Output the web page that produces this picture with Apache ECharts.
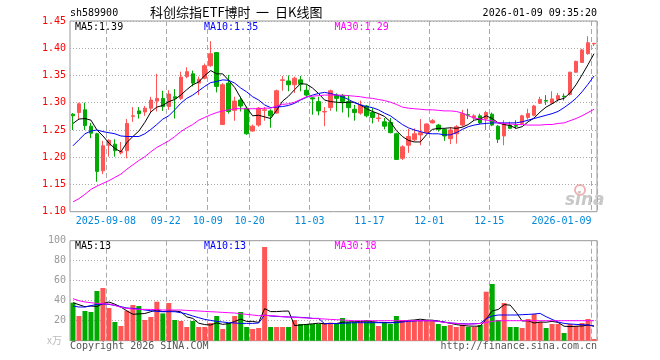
<!DOCTYPE html>
<html><head><meta charset="utf-8">
<script src="https://cdn.jsdelivr.net/npm/echarts@6/dist/echarts.min.js"></script>
<style>html,body{margin:0;padding:0;background:#fff}#c{width:660px;height:360px}</style>
</head><body><div id="c"></div><script>
const dates = ['2025-08-29',
'2025-09-01','2025-09-02','2025-09-03','2025-09-04','2025-09-05',
'2025-09-08','2025-09-09','2025-09-10','2025-09-11','2025-09-12',
'2025-09-15','2025-09-16','2025-09-17','2025-09-18','2025-09-19',
'2025-09-22','2025-09-23','2025-09-24','2025-09-25','2025-09-26',
'2025-09-29','2025-09-30','2025-10-09','2025-10-10',
'2025-10-13','2025-10-14','2025-10-15','2025-10-16','2025-10-17',
'2025-10-20','2025-10-21','2025-10-22','2025-10-23','2025-10-24',
'2025-10-27','2025-10-28','2025-10-29','2025-10-30','2025-10-31',
'2025-11-03','2025-11-04','2025-11-05','2025-11-06','2025-11-07',
'2025-11-10','2025-11-11','2025-11-12','2025-11-13','2025-11-14',
'2025-11-17','2025-11-18','2025-11-19','2025-11-20','2025-11-21',
'2025-11-24','2025-11-25','2025-11-26','2025-11-27','2025-11-28',
'2025-12-01','2025-12-02','2025-12-03','2025-12-04','2025-12-05',
'2025-12-08','2025-12-09','2025-12-10','2025-12-11','2025-12-12',
'2025-12-15','2025-12-16','2025-12-17','2025-12-18','2025-12-19',
'2025-12-22','2025-12-23','2025-12-24','2025-12-25','2025-12-26',
'2025-12-29','2025-12-30','2025-12-31',
'2026-01-05','2026-01-06','2026-01-07','2026-01-08','2026-01-09'];

const open = [1.279,1.282,1.287,1.257,1.243,1.175,1.222,1.224,1.208,1.212,
 1.275,1.285,1.283,1.290,1.303,1.308,1.293,1.311,1.308,1.348,
 1.353,1.336,1.345,1.368,1.392,1.260,1.336,1.286,1.305,1.290,
 1.248,1.259,1.286,1.285,1.281,1.341,1.340,1.333,1.342,1.323,
 1.309,1.302,1.283,1.291,1.314,1.313,1.302,1.288,1.281,1.294,
 1.282,1.271,1.265,1.264,1.243,1.198,1.222,1.232,1.241,1.245,
 1.263,1.259,1.251,1.234,1.243,1.259,1.278,1.272,1.276,1.270,
 1.279,1.257,1.239,1.259,1.258,1.262,1.273,1.277,1.299,1.304,
 1.299,1.306,1.312,1.315,1.356,1.374,1.390,1.408];
const close = [1.276,1.298,1.258,1.244,1.174,1.221,1.231,1.212,1.211,1.262,
 1.276,1.280,1.290,1.305,1.308,1.293,1.316,1.308,1.347,1.357,
 1.336,1.343,1.368,1.390,1.330,1.333,1.284,1.303,1.294,1.243,
 1.257,1.290,1.287,1.276,1.322,1.342,1.333,1.345,1.334,1.314,
 1.307,1.285,1.284,1.322,1.308,1.302,1.291,1.282,1.296,1.276,
 1.273,1.272,1.257,1.245,1.196,1.219,1.238,1.243,1.245,1.261,
 1.267,1.251,1.239,1.250,1.256,1.280,1.277,1.276,1.263,1.282,
 1.259,1.233,1.261,1.253,1.257,1.276,1.280,1.294,1.306,1.303,
 1.307,1.313,1.311,1.356,1.376,1.397,1.410,1.409];
const low = [1.250,1.270,1.250,1.235,1.155,1.169,1.201,1.201,1.205,1.198,
 1.265,1.271,1.276,1.282,1.284,1.285,1.287,1.271,1.305,1.345,
 1.330,1.314,1.343,1.366,1.319,1.259,1.280,1.267,1.284,1.241,
 1.247,1.256,1.267,1.254,1.280,1.322,1.321,1.318,1.321,1.311,
 1.278,1.277,1.257,1.285,1.284,1.282,1.273,1.267,1.278,1.273,
 1.262,1.265,1.251,1.244,1.195,1.195,1.208,1.229,1.222,1.243,
 1.262,1.247,1.230,1.224,1.225,1.256,1.270,1.267,1.261,1.250,
 1.257,1.226,1.222,1.252,1.252,1.259,1.269,1.275,1.298,1.296,
 1.298,1.302,1.304,1.313,1.355,1.373,1.388,1.404];
const high = [1.281,1.300,1.300,1.263,1.245,1.230,1.233,1.233,1.228,1.270,
 1.292,1.292,1.294,1.311,1.353,1.322,1.323,1.325,1.357,1.365,
 1.359,1.348,1.372,1.413,1.393,1.336,1.351,1.311,1.311,1.293,
 1.260,1.292,1.292,1.288,1.324,1.349,1.350,1.348,1.349,1.333,
 1.310,1.311,1.292,1.324,1.317,1.316,1.314,1.296,1.304,1.296,
 1.290,1.280,1.272,1.272,1.245,1.222,1.252,1.253,1.270,1.262,
 1.270,1.261,1.253,1.255,1.259,1.287,1.289,1.279,1.280,1.285,
 1.282,1.259,1.268,1.265,1.268,1.278,1.289,1.296,1.311,1.314,
 1.321,1.318,1.317,1.357,1.377,1.399,1.422,1.409];

const ma5 = [1.262,1.270,1.271,1.268,1.250,1.239,1.226,1.216,1.210,1.227,
 1.238,1.248,1.264,1.283,1.292,1.295,1.302,1.306,1.314,1.324,
 1.333,1.338,1.350,1.359,1.353,1.353,1.341,1.328,1.309,1.291,
 1.276,1.277,1.274,1.271,1.286,1.303,1.312,1.324,1.335,1.334,
 1.327,1.317,1.305,1.302,1.301,1.300,1.301,1.301,1.296,1.289,
 1.284,1.280,1.275,1.265,1.249,1.238,1.231,1.228,1.228,1.241,
 1.251,1.253,1.253,1.254,1.253,1.255,1.260,1.268,1.270,1.276,
 1.271,1.263,1.260,1.258,1.253,1.256,1.265,1.272,1.283,1.292,
 1.298,1.305,1.308,1.318,1.333,1.351,1.370,1.390];
const ma10 = [1.221,1.232,1.243,1.248,1.250,1.247,1.245,1.243,1.239,1.238,
 1.238,1.238,1.243,1.251,1.260,1.270,1.276,1.287,1.299,1.308,
 1.314,1.322,1.330,1.337,1.339,1.342,1.341,1.336,1.327,1.320,
 1.311,1.305,1.296,1.291,1.292,1.293,1.295,1.299,1.305,1.310,
 1.314,1.317,1.319,1.317,1.314,1.311,1.306,1.300,1.296,1.293,
 1.291,1.287,1.281,1.276,1.268,1.260,1.254,1.250,1.247,1.244,
 1.243,1.243,1.241,1.241,1.245,1.251,1.256,1.259,1.261,1.262,
 1.263,1.263,1.263,1.263,1.263,1.265,1.268,1.271,1.274,1.277,
 1.280,1.284,1.291,1.299,1.308,1.320,1.334,1.349];
const ma30 = [1.118,1.124,1.132,1.141,1.147,1.152,1.157,1.163,1.169,1.178,
 1.186,1.194,1.201,1.210,1.218,1.224,1.230,1.238,1.247,1.254,
 1.260,1.268,1.273,1.278,1.282,1.285,1.287,1.289,1.289,1.289,
 1.289,1.289,1.290,1.290,1.294,1.297,1.298,1.301,1.306,1.311,
 1.312,1.313,1.314,1.314,1.314,1.314,1.313,1.312,1.311,1.309,
 1.308,1.306,1.304,1.301,1.297,1.292,1.290,1.289,1.288,1.287,
 1.287,1.286,1.285,1.285,1.284,1.281,1.276,1.272,1.270,1.268,
 1.267,1.263,1.262,1.261,1.260,1.260,1.259,1.259,1.259,1.260,
 1.260,1.262,1.263,1.267,1.271,1.276,1.282,1.288];

const volume = [38,24.7,29.7,28.7,49.7,52.7,32.7,18.7,14.7,30,
 35.7,34.7,20.7,23.7,39,27.3,37.7,20.7,19.7,13.7,
 19.7,13.7,13.7,17.7,24.7,11.7,17.7,24.7,28.7,13.7,
 11.7,12.7,93.7,13.7,13.7,13.7,13.7,20.7,16.7,16.7,
 16.7,16.7,17.7,18,16.7,22.7,18.7,18.7,18.7,20.7,
 18.7,14.7,18.7,16.7,24.7,20.7,20.7,20.7,20.7,20.7,
 19.7,16.7,14.7,15.7,13.7,15.7,13.7,13.7,15.7,49,
 56.7,20.7,37.7,13.7,13.7,12.7,21.7,26.7,18.7,12.7,
 16.7,16.7,7.7,16.7,14.7,17.7,21.7,1.7];
const volMa5 = [38,36,34,34.7,34.2,37.1,38.7,36.5,33.7,29.8,
 26.4,26.8,27.2,29,30.8,29.1,29.7,29.7,28.9,23.8,
 22.3,17.5,16.1,15.7,17.9,16.3,17.1,19.3,21.5,19.3,
 19.3,18.3,32.1,29.1,29.1,29.5,29.7,15.1,15.7,16.3,
 16.9,17.5,16.9,17.2,17.2,18.4,18.8,19,19.1,19.9,
 19.1,18.3,18.3,17.9,18.7,19.1,20.3,20.7,21.5,20.7,
 20.5,19.7,18.5,17.5,16.1,15.3,14.7,14.5,14.5,21.6,
 29.8,31.2,36,35.6,28.5,19.7,19.9,17.7,18.7,18.5,
 19.3,18.3,14.5,14.1,14.5,14.7,15.7,14.5];
const volMa10 = [34.7,33.7,33.7,35,36.3,36.7,36.3,35.3,34,32.7,
 32.3,31.7,30.7,30,29.3,29,29,29,28,26.7,
 24.7,23,21.3,20.3,19.3,18.7,18,17.7,17.3,17.3,
 17.3,17.7,25.7,24.7,24.3,24,23.7,23.7,23.3,23,
 22.3,22.3,17,17.3,17,17.3,17.7,18,18,18,
 18,18,18,18,18,18.7,19.3,19.7,20,20,
 20,19.3,18.7,17.7,17.3,17,16.7,17,17.3,22,
 24.7,25.7,25.7,25.7,25.7,26,26.3,26.7,27.3,24,
 21.3,18.7,17.3,16.7,16.3,16,15.7,14.7];
const volMa30 = [42,40,38.7,38,37.3,37,36.7,35.3,33.3,32.3,
 31.7,31.3,31.3,31.3,31,30.7,30.7,30.7,30.7,30.3,
 30,29.7,29.3,29,28.7,28.3,28,27.7,27,26.3,
 25.7,25,25.3,25,24.7,24,23.7,23.3,23,22.7,
 22.3,22,21.7,21.3,21,20.7,20.3,20,20,20,
 20,20,20,20,20,20,20,20,20,20,
 20,19.3,18.3,17.7,17.3,16.7,16.7,16.7,17.3,18.3,
 19.3,20,20,20,20,20,20,20,20,20,
 20,20,20,20,20,20,20,20];

const tickDates = ['2025-09-08','2025-09-22','2025-10-09','2025-10-20','2025-11-03','2025-11-17','2025-12-01','2025-12-15','2026-01-09'];
const tickLabels = ['2025-09-08','09-22','10-09','10-20','11-03','11-17','12-01','12-15','2026-01-09'];
const titleParts = ['科创综指ETF博时', '一', '日K线图'];
const priceLabels = ['MA5:1.39','MA10:1.35','MA30:1.29'];
const volLabels = ['MA5:13','MA10:13','MA30:18'];

const MONO = '"DejaVu Sans Mono","Liberation Mono",monospace';
const CJK = '"Noto Sans CJK SC"';
const UP = '#ff5555', DOWN = '#00aa00';
const isTick = (i, v) => tickDates.indexOf(v) >= 0;
const gridLineV = {show: true, interval: isTick, lineStyle: {color: '#aaaaaa', type: [5, 3], width: 1}};
const gridLineH = {show: true, lineStyle: {color: '#aaaaaa', type: [1, 2], width: 1}};

const chart = echarts.init(document.getElementById('c'), null, {renderer: 'canvas'});
const lineS = (name, data, color, xi, yi) => ({
  name, type: 'line', data, xAxisIndex: xi, yAxisIndex: yi, symbol: 'none', silent: true,
  lineStyle: {color, width: 1}, itemStyle: {color}, animation: false, z: 5
});
const txt = (x, y, t, color, extra) => ({
  type: 'text', x, y, silent: true,
  style: Object.assign({text: t, fill: color, font: '10px ' + MONO, verticalAlign: 'middle'}, extra || {})
});

chart.setOption({
  animation: false,
  backgroundColor: '#fff',
  grid: [
    {left: 70, right: 63, top: 21, height: 190.7, show: true, borderColor: '#999', borderWidth: 1, outerBoundsMode: 'none'},
    {left: 70, right: 63, top: 240.7, height: 100, show: true, borderColor: '#999', borderWidth: 1, outerBoundsMode: 'none'}
  ],
  xAxis: [
    {type: 'category', gridIndex: 0, data: dates, boundaryGap: true,
     axisLine: {show: false}, axisTick: {show: false}, splitLine: gridLineV,
     axisLabel: {interval: isTick, margin: 5, color: '#0088dd', fontFamily: MONO, fontSize: 10,
       formatter: (v) => {
         const k = tickDates.indexOf(v);
         if (k < 0) return '';
         return (k === tickDates.length - 1 ? '{b|' : '{a|') + tickLabels[k] + '}';
       },
       rich: {a: {padding: [0, 6, 0, 0], color: '#0088dd', fontFamily: MONO, fontSize: 10},
              b: {padding: [0, 65, 0, 0], color: '#0088dd', fontFamily: MONO, fontSize: 10}}}},
    {type: 'category', gridIndex: 1, data: dates, boundaryGap: true,
     axisLine: {show: false}, axisTick: {show: false}, axisLabel: {show: false}, splitLine: gridLineV}
  ],
  yAxis: [
    {type: 'value', gridIndex: 0, min: 1.10, max: 1.45, interval: 0.05, scale: true,
     axisLine: {show: false}, axisTick: {show: false}, splitLine: gridLineH,
     axisLabel: {color: '#ff0000', fontFamily: MONO, fontSize: 10, margin: 4, formatter: v => v.toFixed(2)}},
    {type: 'value', gridIndex: 1, min: 0, max: 100, interval: 20,
     axisLine: {show: false}, axisTick: {show: false}, splitLine: gridLineH,
     axisLabel: {color: '#999999', fontFamily: MONO, fontSize: 10, margin: 4,
       formatter: v => v === 0 ? '{u|x万}' : String(v),
       rich: {u: {color: '#bbbbbb', fontSize: 10, fontFamily: CJK + ',' + MONO, padding: [0, 4, 0, 0]}}}}
  ],
  series: [
    {name: 'K', type: 'candlestick', xAxisIndex: 0, yAxisIndex: 0, barWidth: 4,
     data: dates.map((d, i) => [open[i], close[i], low[i], high[i]]),
     itemStyle: {color: UP, color0: DOWN, borderColor: UP, borderColor0: DOWN, borderWidth: 1}, z: 3},
    lineS('MA5', ma5, '#000000', 0, 0),
    lineS('MA10', ma10, '#0000ff', 0, 0),
    lineS('MA30', ma30, '#ff00ff', 0, 0),
    {name: 'VOL', type: 'bar', xAxisIndex: 1, yAxisIndex: 1, barWidth: 5, data: volume,
     itemStyle: {color: p => close[p.dataIndex] >= open[p.dataIndex] ? UP : DOWN}, z: 3},
    lineS('VMA5', volMa5, '#000000', 1, 1),
    lineS('VMA10', volMa10, '#0000ff', 1, 1),
    lineS('VMA30', volMa30, '#ff00ff', 1, 1)
  ],
  graphic: [
    txt(70, 13, 'sh589900', '#000'),
    txt(150, 12, titleParts[0], '#000', {font: '13px ' + CJK}),
    txt(256, 12, titleParts[1], '#000', {font: '13px ' + CJK}),
    txt(275, 12, titleParts[2], '#000', {font: '13px ' + CJK}),
    txt(597, 13, '2026-01-09 09:35:20', '#000', {align: 'right'}),
    txt(75, 27, priceLabels[0], '#000'),
    txt(204, 27, priceLabels[1], '#0000ff'),
    txt(334.5, 27, priceLabels[2], '#ff00ff'),
    txt(75, 246.5, volLabels[0], '#000'),
    txt(204, 246.5, volLabels[1], '#0000ff'),
    txt(334.5, 246.5, volLabels[2], '#ff00ff'),
    txt(70, 346, 'Copyright 2026 SINA.COM', '#555'),
    txt(597, 346, 'http://finance.sina.com.cn', '#555', {align: 'right'}),
    {type: 'circle', shape: {cx: 580, cy: 190, r: 5}, silent: true,
     style: {fill: 'none', stroke: '#f3b0b0', lineWidth: 2}},
    txt(565, 201, 'sina', '#c8c8c8', {font: 'italic bold 17px "DejaVu Sans"'})
  ]
});
</script></body></html>
